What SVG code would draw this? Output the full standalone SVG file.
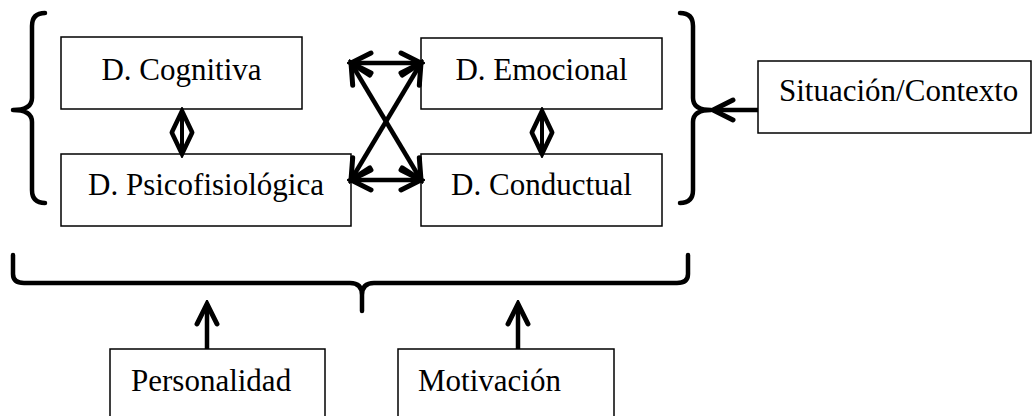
<svg xmlns="http://www.w3.org/2000/svg" width="1034" height="416" viewBox="0 0 1034 416">
<style>
.box{fill:#fff;stroke:#000;stroke-width:1.5}
.lbl{font-family:"Liberation Serif","Times New Roman",serif;font-size:31px;fill:#000}
.brace{fill:none;stroke:#000;stroke-width:4.5;stroke-linecap:round;stroke-linejoin:round}
.arr{fill:none;stroke:#000;stroke-width:4.5}
.arr2{fill:none;stroke:#000;stroke-width:4}
</style>
<defs>
<marker id="ah" markerUnits="userSpaceOnUse" viewBox="-26 -16 30 32" markerWidth="30" markerHeight="32" refX="0" refY="0" orient="auto-start-reverse">
<path d="M-20,-10 L0,0 L-20,10" fill="none" stroke="#000" stroke-width="5" stroke-linecap="round" stroke-linejoin="miter"/>
</marker>
<marker id="ahd" markerUnits="userSpaceOnUse" viewBox="-26 -16 30 32" markerWidth="30" markerHeight="32" refX="0" refY="0" orient="auto-start-reverse">
<path d="M-21,-10 L0,0 L-21,10" fill="none" stroke="#000" stroke-width="4.5" stroke-linecap="round" stroke-linejoin="miter"/>
</marker>
</defs>
<g id="braces">
<path class="brace" d="M45,13 Q32,13 32,26 L32,98 Q32,110 13,110 Q32,110 32,122 L32,190 Q32,203 45,203"/>
<path class="brace" d="M680,13 Q693,13 693,26 L693,98 Q693,110 711,110 Q693,110 693,122 L693,190 Q693,203 680,203"/>
<path class="brace" d="M13,255 L13,274 Q13,283 24,283 L350,283 Q362,283 362,295 L362,311 M362,295 Q362,283 374,283 L677,283 Q688,283 688,274 L688,255"/>
</g>
<g id="cognitiva"><rect class="box" x="61" y="37" width="241" height="72"/><text class="lbl" x="181.5" y="80" text-anchor="middle">D. Cognitiva</text></g>
<g id="emocional"><rect class="box" x="421" y="38" width="241" height="71"/><text class="lbl" x="541.5" y="80" text-anchor="middle">D. Emocional</text></g>
<g id="psicofisiologica"><rect class="box" x="61" y="154" width="290" height="72"/><text class="lbl" x="206" y="195" text-anchor="middle">D. Psicofisiológica</text></g>
<g id="conductual"><rect class="box" x="421" y="154" width="241" height="72"/><text class="lbl" x="541.5" y="195" text-anchor="middle">D. Conductual</text></g>
<g id="situacion"><rect class="box" x="758" y="61" width="273" height="72"/><text class="lbl" x="779" y="101">Situación/Contexto</text></g>
<g id="personalidad"><rect class="box" x="110" y="349" width="215" height="80"/><text class="lbl" x="131" y="391">Personalidad</text></g>
<g id="motivacion"><rect class="box" x="398" y="349" width="216" height="80"/><text class="lbl" x="418" y="391">Motivación</text></g>
<g id="connectors">
<line class="arr" x1="351" y1="63" x2="421" y2="63" marker-start="url(#ah)" marker-end="url(#ah)"/>
<line class="arr" x1="351" y1="180" x2="421" y2="180" marker-start="url(#ah)" marker-end="url(#ah)"/>
<line class="arr" x1="351" y1="63" x2="421" y2="180" marker-start="url(#ah)" marker-end="url(#ah)"/>
<line class="arr" x1="421" y1="63" x2="351" y2="180" marker-start="url(#ah)" marker-end="url(#ah)"/>
<line class="arr2" x1="182" y1="111" x2="182" y2="154" marker-start="url(#ahd)" marker-end="url(#ahd)"/>
<line class="arr2" x1="542" y1="111" x2="542" y2="154" marker-start="url(#ahd)" marker-end="url(#ahd)"/>
<line class="arr" x1="758" y1="110" x2="713" y2="110" marker-end="url(#ah)"/>
<line class="arr" x1="207" y1="349" x2="207" y2="304" marker-end="url(#ah)"/>
<line class="arr" x1="518" y1="349" x2="518" y2="304" marker-end="url(#ah)"/>
</g>
</svg>
